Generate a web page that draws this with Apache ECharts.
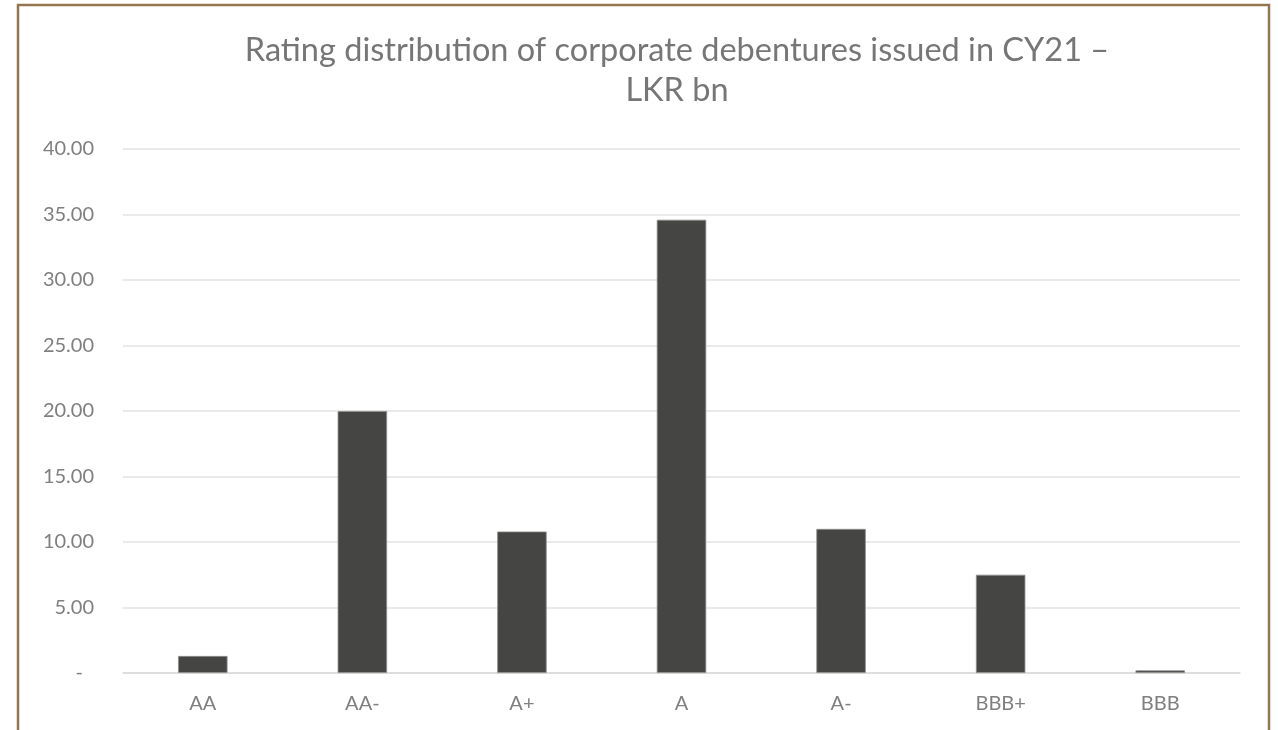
<!DOCTYPE html>
<html>
<head>
<meta charset="utf-8">
<script src="https://cdn.jsdelivr.net/npm/echarts@6/dist/echarts.min.js"></script>
<style>
  html, body { margin: 0; padding: 0; background: #ffffff; }
  #chart { width: 1278px; height: 730px; }
</style>
</head>
<body>
<div id="chart"></div>
<script>
// Debenture issuance by credit rating, LKR bn
const ratings = ['AA', 'AA-', 'A+', 'A', 'A-', 'BBB+', 'BBB'];
const issuedLKRbn = [1.3, 20.0, 10.8, 34.6, 11.0, 7.5, 0.2];
const titleText = 'Rating distribution of corporate debentures issued in CY21 –\nLKR bn';

const FONT = 'Lato, "Open Sans", sans-serif';

const chart = echarts.init(document.getElementById('chart'), null, { renderer: 'canvas' });
chart.setOption({
  backgroundColor: '#ffffff',
  animation: false,
  graphic: [{
    type: 'rect',
    silent: true,
    z: -1,
    shape: { x: 18, y: 5, width: 1251, height: 820 },
    style: { fill: 'none', stroke: '#937650', lineWidth: 2.5 }
  }],
  title: {
    text: titleText,
    left: 672,
    textAlign: 'center',
    top: 26,
    textStyle: {
      fontFamily: FONT,
      fontSize: 32.5,
      fontWeight: 'normal',
      color: '#767676',
      lineHeight: 40
    }
  },
  grid: { left: 123, right: 38, top: 149, bottom: 57 },
  xAxis: {
    type: 'category',
    data: ratings,
    axisLine: { show: true, lineStyle: { color: '#d9d9d9', width: 1.5 } },
    axisTick: { show: false },
    axisLabel: { fontFamily: FONT, fontSize: 20, color: '#7f7f7f', margin: 21 }
  },
  yAxis: {
    type: 'value',
    min: 0,
    max: 40,
    interval: 5,
    axisLine: { show: false },
    axisTick: { show: false },
    splitLine: { lineStyle: { color: '#e3e3e3', width: 1.5 } },
    axisLabel: {
      fontFamily: FONT,
      fontSize: 20,
      color: '#7f7f7f',
      margin: 29,
      formatter: v => v === 0 ? '{dash|-}' : v.toFixed(2),
      rich: {
        dash: { fontFamily: FONT, fontSize: 20, color: '#7f7f7f', padding: [0, 11, 0, 0] }
      }
    }
  },
  series: [{
    type: 'bar',
    data: issuedLKRbn,
    barWidth: '31%',
    itemStyle: { color: '#454543', borderColor: '#8f8f8d', borderWidth: 0.8 }
  }]
});
</script>
</body>
</html>
